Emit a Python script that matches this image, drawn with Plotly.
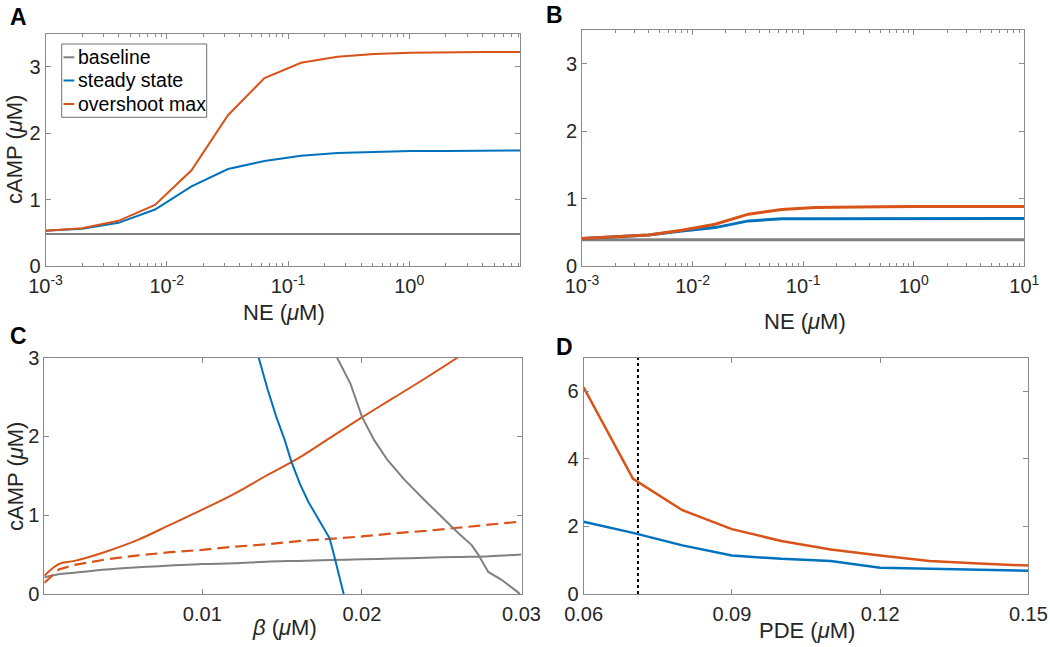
import plotly.graph_objects as go

# ---------------- data ----------------
# Panel A (NE dose response)
ne_a = [0.001, 0.002, 0.004, 0.008, 0.016, 0.032, 0.064, 0.128, 0.256, 0.512, 1.024, 2.048, 4.096, 8.192]
a_baseline = [0.48, 0.48, 0.48, 0.48, 0.48, 0.48, 0.48, 0.48, 0.48, 0.48, 0.48, 0.48, 0.48, 0.48]
a_steady = [0.53, 0.56, 0.65, 0.85, 1.20, 1.46, 1.58, 1.66, 1.70, 1.72, 1.73, 1.73, 1.74, 1.74]
a_overshoot = [0.53, 0.57, 0.68, 0.92, 1.44, 2.27, 2.83, 3.06, 3.15, 3.19, 3.21, 3.22, 3.22, 3.22]

# Panel B
ne_b = [0.001, 0.002, 0.004, 0.008, 0.016, 0.032, 0.064, 0.128, 0.256, 0.512, 1.024, 2.048, 4.096, 8.192, 16.384]
b_baseline = [0.39, 0.39, 0.39, 0.39, 0.39, 0.39, 0.39, 0.39, 0.39, 0.39, 0.39, 0.39, 0.39, 0.39, 0.39]
b_steady = [0.41, 0.43, 0.46, 0.52, 0.57, 0.67, 0.70, 0.70, 0.70, 0.70, 0.705, 0.705, 0.705, 0.705, 0.705]
b_overshoot = [0.41, 0.43, 0.46, 0.53, 0.62, 0.77, 0.84, 0.87, 0.88, 0.88, 0.884, 0.884, 0.884, 0.884, 0.884]

# Panel C (beta)
beta_c = [0.0001, 0.001, 0.002, 0.004, 0.006, 0.008, 0.010, 0.012, 0.014, 0.016, 0.018,
          0.020, 0.022, 0.024, 0.026, 0.028, 0.030]
c_orange_solid = [0.23, 0.38, 0.42, 0.54, 0.69, 0.88, 1.07, 1.27, 1.50, 1.72, 1.98,
                  2.24, 2.49, 2.74, 3.00, 3.28, 3.57]
c_orange_dash = [0.14, 0.31, 0.37, 0.44, 0.49, 0.53, 0.56, 0.60, 0.63, 0.67, 0.70,
                 0.73, 0.77, 0.80, 0.84, 0.88, 0.92]
c_grey_low = [0.21, 0.25, 0.27, 0.31, 0.34, 0.36, 0.38, 0.39, 0.41, 0.42, 0.43,
              0.44, 0.45, 0.46, 0.47, 0.48, 0.50]
c_blue_beta = [0.01353, 0.0141, 0.01463, 0.01516, 0.01558, 0.01611, 0.01664, 0.01717,
               0.01759, 0.01797, 0.01822, 0.01854, 0.01886]
c_blue_y = [3.0, 2.59, 2.25, 1.955, 1.68, 1.40, 1.17, 0.98, 0.83, 0.71, 0.52, 0.26, 0.0]
c_grey_beta = [0.01844, 0.01928, 0.0200, 0.02076, 0.0216, 0.02266, 0.02393, 0.0252,
               0.02605, 0.02688, 0.02729, 0.02792, 0.02875, 0.02973, 0.0299]
c_grey_y = [3.0, 2.67, 2.25, 1.955, 1.70, 1.45, 1.19, 0.94, 0.77, 0.62, 0.50, 0.28, 0.18, 0.03, 0.0]

# Panel D (PDE)
pde = [0.06, 0.07, 0.08, 0.09, 0.10, 0.11, 0.12, 0.13, 0.14, 0.15]
d_overshoot = [6.12, 3.41, 2.48, 1.92, 1.57, 1.32, 1.14, 0.98, 0.90, 0.84]
d_steady = [2.14, 1.81, 1.44, 1.14, 1.04, 0.98, 0.78, 0.75, 0.72, 0.69]
pde_marker = 0.071

log_tickvals_a = [0.001, 0.01, 0.1, 1]
log_ticktext_a = ["10<sup>-3</sup>", "10<sup>-2</sup>", "10<sup>-1</sup>", "10<sup>0</sup>"]
log_tickvals_b = [0.001, 0.01, 0.1, 1, 10]
log_ticktext_b = ["10<sup>-3</sup>", "10<sup>-2</sup>", "10<sup>-1</sup>", "10<sup>0</sup>", "10<sup>1</sup>"]

legend_names = ["baseline", "steady state", "overshoot max"]

# ---------------- style ----------------
BLUE = "#0072BD"
ORANGE = "#D95319"
GREY = "#808080"
FRAME = "#8a8a8a"
TXT = "#262626"
FONT = "Liberation Sans, Arial, Helvetica, sans-serif"
W, H = 1050, 647

minor_vals = [m * 10 ** e for e in (-3, -2, -1, 0) for m in range(2, 10)]


def px(x):
    return x / W


def py(y):
    return 1 - y / H


fig = go.Figure()


def line(x, y, color, width, axis, dash="solid", shape="linear"):
    fig.add_trace(go.Scatter(x=x, y=y, mode="lines", xaxis="x" + axis, yaxis="y" + axis,
                             line=dict(color=color, width=width, dash=dash, shape=shape),
                             showlegend=False, hoverinfo="skip"))


# A
line(ne_a, a_baseline, GREY, 2, "")
line(ne_a, a_steady, BLUE, 2, "")
line(ne_a, a_overshoot, ORANGE, 2, "")
# B
line(ne_b, b_baseline, GREY, 3, "2")
line(ne_b, b_steady, BLUE, 3, "2")
line(ne_b, b_overshoot, ORANGE, 3, "2")
# C
line(beta_c, c_grey_low, GREY, 2, "3", shape="spline")
line(beta_c, c_orange_dash, ORANGE, 2.2, "3", dash="12px,6px")
line(beta_c, c_orange_solid, ORANGE, 2, "3", shape="spline")
line(c_blue_beta, c_blue_y, BLUE, 2, "3")
line(c_grey_beta, c_grey_y, GREY, 2, "3")
# D
line([pde_marker, pde_marker], [0, 7], "black", 2, "4", dash="dot")
line(pde, d_steady, BLUE, 2.5, "4")
line(pde, d_overshoot, ORANGE, 2.5, "4")

common = dict(showline=True, linecolor=FRAME, linewidth=1, mirror="allticks",
              ticks="inside", ticklen=5, tickcolor=FRAME, tickwidth=1,
              showgrid=False, zeroline=False, automargin=False,
              tickfont=dict(family=FONT, size=20, color=TXT))

minor_log = dict(ticks="inside", ticklen=3, tickcolor=FRAME, tickmode="array",
                 tickvals=minor_vals, showgrid=False)

fig.update_layout(
    template="none",
    width=W, height=H, autosize=False,
    margin=dict(l=0, r=0, t=0, b=0, pad=0),
    paper_bgcolor="white", plot_bgcolor="white",
    xaxis=dict(common, type="log", domain=[px(45.5), px(520)], anchor="y",
               range=[-3, 0.9134], tickmode="array", tickvals=log_tickvals_a,
               ticktext=log_ticktext_a, minor=minor_log, ticklabelstandoff=2),
    yaxis=dict(common, domain=[py(266), py(33.5)], anchor="x", range=[0, 3.5],
               tickvals=[0, 1, 2, 3]),
    xaxis2=dict(common, type="log", domain=[px(582), px(1024.3)], anchor="y2",
                range=[-3, 1], tickmode="array", tickvals=log_tickvals_b,
                ticktext=log_ticktext_b, minor=minor_log, ticklabelstandoff=2),
    yaxis2=dict(common, domain=[py(266), py(30.3)], anchor="x2", range=[0, 3.5],
                tickvals=[0, 1, 2, 3]),
    xaxis3=dict(common, domain=[px(44.3), px(521.5)], anchor="y3",
                range=[0.0001, 0.03], tickvals=[0.01, 0.02, 0.03],
                ticktext=["0.01", "0.02", "0.03"], ticklabelstandoff=2),
    yaxis3=dict(common, domain=[py(594), py(357.5)], anchor="x3", range=[0, 3],
                tickvals=[0, 1, 2, 3]),
    xaxis4=dict(common, domain=[px(583.6), px(1028.4)], anchor="y4",
                range=[0.06, 0.15], tickvals=[0.06, 0.09, 0.12, 0.15],
                ticktext=["0.06", "0.09", "0.12", "0.15"], ticklabelstandoff=2),
    yaxis4=dict(common, domain=[py(594), py(357.5)], anchor="x4", range=[0, 7],
                tickvals=[0, 2, 4, 6]),
)

ann = []


def text(x, y, s, size=22, bold=False, angle=0, xanchor="center", color=TXT):
    ann.append(dict(x=px(x), y=py(y), xref="paper", yref="paper", text=("<b>%s</b>" % s) if bold else s,
                    showarrow=False, xanchor=xanchor, yanchor="middle", textangle=angle,
                    font=dict(family=FONT, size=size, color=color)))


# panel letters
text(18.6, 17, "A", size=23, bold=True, color="black")
text(554, 15, "B", size=23, bold=True, color="black")
text(18.6, 336, "C", size=23, bold=True, color="black")
text(564, 347, "D", size=23, bold=True, color="black")

# axis titles
mu = "(<i>μ</i>M)"
text(284, 312, "NE " + mu)
text(805, 321, "NE " + mu)
text(284, 627, "<i>β</i> " + mu)
text(807, 630, "PDE " + mu)
text(15, 150, "cAMP " + mu, angle=-90)
text(15, 477, "cAMP " + mu, angle=-90)

# legend (panel A)
shapes = [dict(type="rect", xref="paper", yref="paper", x0=px(61.7), x1=px(206.7),
               y0=py(117.3), y1=py(44), line=dict(color="#6e6e6e", width=1),
               fillcolor="white", layer="above")]
leg_y = [57.3, 80.5, 104]
leg_col = [GREY, BLUE, ORANGE]
for name, yy, c in zip(legend_names, leg_y, leg_col):
    shapes.append(dict(type="line", xref="paper", yref="paper", x0=px(63.5), x1=px(74.3),
                       y0=py(yy), y1=py(yy), line=dict(color=c, width=2), layer="above"))
    text(75.7, yy, name, size=19.5, xanchor="left", color="black")

fig.update_layout(annotations=ann, shapes=shapes)
fig.write_html("out.html", config={"displayModeBar": False},
               post_script="document.body.style.margin='0';document.body.style.padding='0';")
